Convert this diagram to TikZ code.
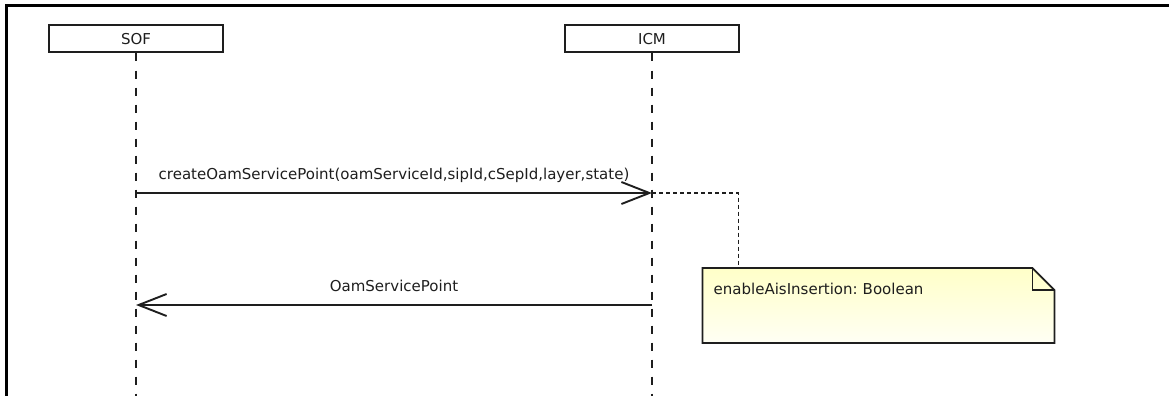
\documentclass[tikz,border=0pt]{standalone}
\usepackage{fontspec}
\setmainfont{DejaVu Sans}
\frenchspacing
\usepackage[dvipsnames]{xcolor}
\usetikzlibrary{arrows.meta,positioning,backgrounds}

\definecolor{notetop}{HTML}{FFFFC8}
\definecolor{notebot}{HTML}{FFFFF4}
\definecolor{inkgray}{HTML}{1E1E1E}

\begin{document}
\begin{tikzpicture}[x=1pt,y=-1pt,>={Straight Barb[length=28pt,width=22pt]},node distance=516pt,
    every node/.style={font=\fontsize{15}{18}\selectfont,text=inkgray},
    life box/.style={draw=inkgray,line width=2pt,minimum width=174pt,minimum height=27pt,inner sep=0pt},
    lifeline/.style={draw=inkgray,line width=1.8pt,dash pattern=on 8pt off 9pt},
    msg/.style={->,draw=inkgray,line width=1.9pt},
    note/.style={anchor=north west,text width=329.5pt,inner xsep=11pt,inner ysep=0pt,text height=26pt,text depth=48.5pt},
    note link/.style={draw=inkgray,line width=1.5pt,dash pattern=on 4pt off 3pt}]

    \useasboundingbox (0,0) rectangle (1169,396);
    \draw[line width=3pt] (1169,5.5) -- (6.5,5.5) -- (6.5,396);

    \node[life box] (0) at (136,39) {SOF};
    \node[life box] (1) [right of = 0] {ICM};

    \coordinate (bottom) at (0,396);
    \coordinate (m1) at (0,193);
    \coordinate (m2) at (0,305);

    \draw[lifeline] (0.south) -- (0.south |- bottom);
    \draw[lifeline] (1.south) -- (1.south |- bottom);

    \node[note] (n) at (702.5,268) {enableAisInsertion: Boolean};
    \begin{scope}[on background layer]
        \shadedraw[top color=notetop,bottom color=notebot,draw=inkgray,line width=1.8pt]
            (n.north west) -- ([xshift=-22pt]n.north east) -- ([yshift=-22pt]n.north east)
            -- (n.south east) -- (n.south west) -- cycle;
    \end{scope}
    \draw[draw=inkgray,line width=1.8pt] ([xshift=-22pt]n.north east) |- ([yshift=-22pt]n.north east);

    \path
        (0 |- m1) edge [msg] node[above=6pt]{createOamServicePoint(oamServiceId,sipId,cSepId,layer,state)} (1 |- m1)
        (1 |- m2) edge [msg] node[above=9pt]{OamServicePoint} (0 |- m2)
        ;
    \draw[note link] (1 |- m1) -| ([xshift=36pt]n.north west);
\end{tikzpicture}
\end{document}
